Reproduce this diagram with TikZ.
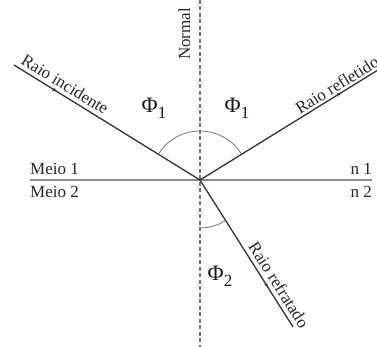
\documentclass[tikz,border=0pt]{standalone}
\usepackage{fontspec}
\setmainfont{Liberation Serif}
\usetikzlibrary{decorations.markings,arrows.meta}
\begin{document}
\begin{tikzpicture}[x=1pt,y=-1pt,
  ray/.style={draw=black!80,line width=1.3pt},
  midarrow/.style={postaction={decorate},decoration={markings,mark=at position #1 with {\arrow{Stealth[length=4.5pt,width=3.5pt]}}}},
  lbl/.style={font=\fontsize{17}{17}\selectfont,text=black!85,inner sep=0pt},
  phi/.style={font=\fontsize{22}{22}\selectfont,text=black!90,inner sep=0pt},
  anglearc/.style={draw=black!55,line width=0.8pt}]
\useasboundingbox (0,0) rectangle (377,347);
\coordinate (O) at (200,180);
\coordinate (Ninc) at (14,65);
\coordinate (Nref) at (386,65);
\coordinate (Nrfr) at (293,327);
\coordinate (Ntop) at (200,0);
\coordinate (Nbot) at (200,347);
\coordinate (HL) at (30,180);
\coordinate (HR) at (372,180);
% interface
\draw[draw=black!45,line width=1.8pt] (HL) -- (HR);
% normal
\draw[draw=black!55,line width=1.2pt,dash pattern=on 4pt off 2.5pt] (Ntop) -- (Nbot);
% rays
\draw[ray,midarrow=0.23] (Ninc) -- (O);
\draw[ray,midarrow=0.76] (O) -- (Nref);
\draw[ray,midarrow=0.73] (O) -- (Nrfr);
% arcs
\draw[anglearc] (O) ++(-148.3:49) arc[start angle=-148.3,end angle=-31.7,radius=49];
\draw[anglearc] (O) ++(90:48) arc[start angle=90,end angle=57.7,radius=48];
% labels
\node[lbl,rotate=90,anchor=base] (tnormal) at (190,34) {Normal};
\node[lbl,rotate=-31.7,anchor=base] (tinc) at (62,89) {Raio incidente};
\node[lbl,rotate=31.7,anchor=base] (tref) at (340,90) {Raio refletido};
\node[lbl,rotate=-57.7,anchor=base] (trfr) at (274,288) {Raio refratado};
\node[lbl,anchor=base west] (m1) at (30,175) {Meio 1};
\node[lbl,anchor=base west] (m2) at (30,198) {Meio 2};
\node[lbl,anchor=base east] (n1) at (372,175) {n 1};
\node[lbl,anchor=base east] (n2) at (372,198) {n 2};
\node[phi] (p1) at (154,108) {Φ\raisebox{-0.28em}{\fontsize{17}{17}\selectfont 1}};
\node[phi] (p2) at (237,108) {Φ\raisebox{-0.28em}{\fontsize{17}{17}\selectfont 1}};
\node[phi] (p3) at (220,276) {Φ\raisebox{-0.28em}{\fontsize{17}{17}\selectfont 2}};
\end{tikzpicture}
\end{document}
